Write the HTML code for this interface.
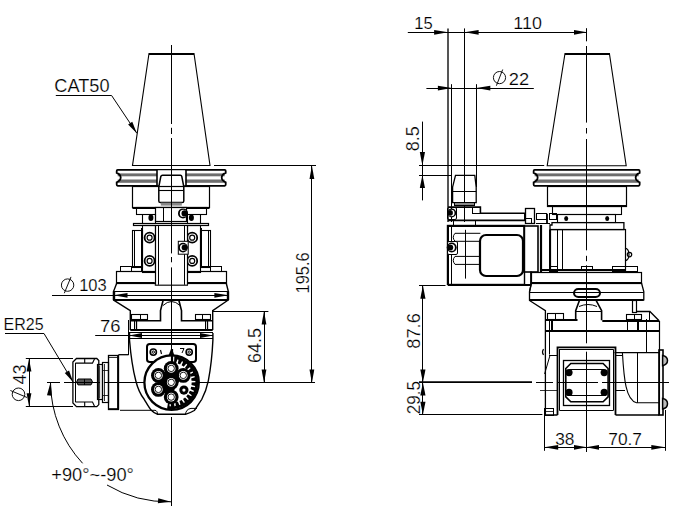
<!DOCTYPE html>
<html><head><meta charset="utf-8"><style>
html,body{margin:0;padding:0;background:#fff;}
svg{display:block;}
text{font-family:"Liberation Sans",sans-serif;fill:#000;stroke:#fff;stroke-width:0.2px;}
</style></head><body>
<svg width="676" height="511" viewBox="0 0 676 511">
<path d="M149,53.5 L194,53.5 L210,165.5 L132.5,165.5 Z" fill="none" stroke="#000" stroke-width="1.1" />
<line x1="149" y1="54.0" x2="194" y2="54.0" stroke="#000" stroke-width="2.2" />
<rect x="117.69999999999999" y="173.4" width="107.0" height="2.9000000000000057" fill="#6e6e6e"/>
<rect x="117.69999999999999" y="179.5" width="107.0" height="3.3000000000000114" fill="#6e6e6e"/>
<path d="M117.69999999999999,169.8 H224.7 Q225.7,169.8 225.7,171 V172.8 Q221.7,174.5 221.7,177.6 Q221.7,180.7 225.7,182.4 V184.6 Q225.7,185.8 224.7,185.8 H117.69999999999999 Q116.69999999999999,185.8 116.69999999999999,184.6 V182.4 Q120.69999999999999,180.7 120.69999999999999,177.6 Q120.69999999999999,174.5 116.69999999999999,172.8 V171 Q116.69999999999999,169.8 117.69999999999999,169.8 Z" fill="none" stroke="#000" stroke-width="1.8" />
<rect x="157" y="170.3" width="28.5" height="15" fill="#fff"/>
<line x1="157.0" y1="169" x2="157.0" y2="186.5" stroke="#000" stroke-width="1.6" />
<line x1="186.0" y1="169" x2="186.0" y2="186.5" stroke="#000" stroke-width="1.6" />
<path d="M162.5,175.2 H180.5 Q181.5,175.2 181.8,176.5 L183.8,186.9 V201 Q183.8,202.6 182,202.6 H160.6 Q158.8,202.6 158.8,201 V186.9 L160.8,176.5 Q161.2,175.2 162.5,175.2 Z" fill="#fff" stroke="#000" stroke-width="1.5" />
<line x1="158.8" y1="190.5" x2="183.8" y2="190.5" stroke="#000" stroke-width="1.1" />
<rect x="160.8" y="202.6" width="21" height="3" fill="#888"/>
<rect x="132.5" y="186.5" width="77.0" height="21.0" rx="0" fill="none" stroke="#000" stroke-width="1.2"/>
<line x1="132.5" y1="208.0" x2="209.5" y2="208.0" stroke="#000" stroke-width="2" />
<rect x="136.5" y="207.5" width="70.0" height="7.0" rx="0" fill="none" stroke="#000" stroke-width="1.1"/>
<rect x="155.5" y="207.5" width="31.0" height="14.0" rx="0" fill="#fff" stroke="#000" stroke-width="1.2"/>
<line x1="163.5" y1="207" x2="163.5" y2="221.3" stroke="#000" stroke-width="1" />
<circle cx="183" cy="213.4" r="5" fill="#000"/>
<circle cx="183.4" cy="213.4" r="3.60" fill="#fff"/>
<circle cx="184.6" cy="213.4" r="3.10" fill="#000"/>
<line x1="142.5" y1="214" x2="142.5" y2="223" stroke="#000" stroke-width="1.1" />
<line x1="155.5" y1="214" x2="155.5" y2="223" stroke="#000" stroke-width="1.1" />
<line x1="187.5" y1="214" x2="187.5" y2="223" stroke="#000" stroke-width="1.1" />
<line x1="200.5" y1="214" x2="200.5" y2="223" stroke="#000" stroke-width="1.1" />
<ellipse cx="150.9" cy="217.8" rx="2.5" ry="3.2" fill="#000"/>
<ellipse cx="191.4" cy="217.8" rx="2.5" ry="3.2" fill="#000"/>
<rect x="133.5" y="223.5" width="75.0" height="2.0" rx="0" fill="none" stroke="#000" stroke-width="1.2"/>
<rect x="132.5" y="230.5" width="10.0" height="37.0" rx="0" fill="none" stroke="#000" stroke-width="1.1"/>
<line x1="134.5" y1="230" x2="134.5" y2="267.3" stroke="#000" stroke-width="1" />
<rect x="200.5" y="230.5" width="10.0" height="37.0" rx="0" fill="none" stroke="#000" stroke-width="1.1"/>
<line x1="208.5" y1="230" x2="208.5" y2="267.3" stroke="#000" stroke-width="1" />
<rect x="142.5" y="225.5" width="13.0" height="47.0" rx="0" fill="none" stroke="#000" stroke-width="1.1"/>
<line x1="142.0" y1="228" x2="142.0" y2="268" stroke="#000" stroke-width="2" />
<rect x="187.5" y="225.5" width="13.0" height="47.0" rx="0" fill="none" stroke="#000" stroke-width="1.1"/>
<line x1="201.0" y1="228" x2="201.0" y2="268" stroke="#000" stroke-width="2" />
<circle cx="149.6" cy="237.7" r="5.0" fill="none" stroke="#000" stroke-width="1.8"/>
<circle cx="149.6" cy="237.7" r="2.5" fill="none" stroke="#000" stroke-width="1.2"/>
<circle cx="149.6" cy="260.9" r="5.0" fill="none" stroke="#000" stroke-width="1.8"/>
<circle cx="149.6" cy="260.9" r="2.5" fill="none" stroke="#000" stroke-width="1.2"/>
<circle cx="192.2" cy="237.7" r="5.0" fill="none" stroke="#000" stroke-width="1.8"/>
<circle cx="192.2" cy="237.7" r="2.5" fill="none" stroke="#000" stroke-width="1.2"/>
<circle cx="192.2" cy="260.9" r="5.0" fill="none" stroke="#000" stroke-width="1.8"/>
<circle cx="192.2" cy="260.9" r="2.5" fill="none" stroke="#000" stroke-width="1.2"/>
<rect x="120.5" y="266.5" width="21.0" height="5.0" rx="0" fill="none" stroke="#000" stroke-width="1"/>
<line x1="131.5" y1="266.6" x2="131.5" y2="271.6" stroke="#000" stroke-width="1" />
<rect x="200.5" y="266.5" width="21.0" height="5.0" rx="0" fill="none" stroke="#000" stroke-width="1"/>
<line x1="210.5" y1="266.6" x2="210.5" y2="271.6" stroke="#000" stroke-width="1" />
<rect x="116.5" y="271.5" width="110.0" height="12.0" rx="0" fill="none" stroke="#000" stroke-width="1.2"/>
<line x1="116.8" y1="283.0" x2="154.8" y2="283.0" stroke="#000" stroke-width="2" />
<line x1="188" y1="283.0" x2="226.2" y2="283.0" stroke="#000" stroke-width="2" />
<line x1="154.8" y1="285.0" x2="188" y2="285.0" stroke="#000" stroke-width="1.5" />
<rect x="155.5" y="226.5" width="32" height="58" fill="#fff"/>
<line x1="155.5" y1="225.7" x2="155.5" y2="284.8" stroke="#000" stroke-width="1.2" />
<line x1="158.5" y1="225.7" x2="158.5" y2="284.8" stroke="#000" stroke-width="1" />
<line x1="184.5" y1="225.7" x2="184.5" y2="284.8" stroke="#000" stroke-width="1" />
<line x1="187.5" y1="225.7" x2="187.5" y2="284.8" stroke="#000" stroke-width="1.2" />
<rect x="178.3" y="241.3" width="9.9" height="12.9" fill="#fff" stroke="#000" stroke-width="1"/>
<circle cx="183" cy="247.6" r="4.8" fill="#000"/>
<circle cx="183.4" cy="247.6" r="3.46" fill="#fff"/>
<circle cx="184.6" cy="247.6" r="2.98" fill="#000"/>
<path d="M116.8,283 L113.6,291.3 V300 L130.3,310.7 V330 M226.2,283 L228.3,291.3 V300 L212.7,310.7 V330" fill="none" stroke="#000" stroke-width="1.4" />
<line x1="113.6" y1="300.0" x2="228.3" y2="300.0" stroke="#000" stroke-width="1.8" />
<line x1="113.6" y1="291.5" x2="228.3" y2="291.5" stroke="#000" stroke-width="1" />
<line x1="114.0" y1="291.3" x2="114.0" y2="300" stroke="#000" stroke-width="2.4" />
<line x1="228.0" y1="291.3" x2="228.0" y2="300" stroke="#000" stroke-width="2.4" />
<path d="M130.3,320.7 H160.5 V310.5 L163.2,300 M212.7,320.7 H181.5 V310.5 L178.8,300" fill="none" stroke="#000" stroke-width="1.6" />
<path d="M163,305.5 Q171.5,297.5 180,305.5" fill="none" stroke="#000" stroke-width="1" />
<rect x="131.5" y="314.5" width="16.0" height="5.0" rx="0" fill="none" stroke="#000" stroke-width="1.1"/>
<line x1="140.5" y1="314" x2="140.5" y2="319.5" stroke="#000" stroke-width="1" />
<rect x="195.5" y="314.5" width="15.0" height="5.0" rx="0" fill="none" stroke="#000" stroke-width="1.1"/>
<line x1="202.5" y1="314" x2="202.5" y2="319.5" stroke="#000" stroke-width="1" />
<line x1="134.5" y1="320.7" x2="134.5" y2="330" stroke="#000" stroke-width="1" />
<line x1="136.5" y1="320.7" x2="136.5" y2="330" stroke="#000" stroke-width="1.3" />
<line x1="205.5" y1="320.7" x2="205.5" y2="330" stroke="#000" stroke-width="1" />
<line x1="207.5" y1="320.7" x2="207.5" y2="330" stroke="#000" stroke-width="1.3" />
<line x1="130.3" y1="330.0" x2="212.7" y2="330.0" stroke="#000" stroke-width="2.2" />
<line x1="129" y1="332.5" x2="213" y2="332.5" stroke="#000" stroke-width="1" />
<line x1="129" y1="338.5" x2="213" y2="338.5" stroke="#000" stroke-width="1" />
<path d="M129.5,333 V340 C130.5,352 133,370 135.8,380.8 C138,390 140,394 144.2,399.3 C147,404 149,408 151.6,410.5 Q154,413 157.2,414.2 H186 Q190,413 194.3,410.5 C197,407 199,403 201.8,399.3 C205,393 207,387 208.3,380.8 C210,372 212,360 212.9,340 V333" fill="none" stroke="#000" stroke-width="1.4" />
<line x1="128.5" y1="320" x2="128.5" y2="355" stroke="#000" stroke-width="1" />
<path d="M120,410.3 H155 Q157.5,410.5 157.5,414.9" fill="none" stroke="#000" stroke-width="1" />
<path d="M185.3,414.9 Q186,409 191,408.4 H197" fill="none" stroke="#000" stroke-width="1" />
<rect x="147.0" y="344.0" width="49.0" height="18.0" rx="2.8" fill="none" stroke="#000" stroke-width="2"/>
<circle cx="153.3" cy="352.1" r="3.1" fill="none" stroke="#000" stroke-width="1.6"/>
<circle cx="153.3" cy="352.1" r="1.2" fill="none" stroke="#000" stroke-width="1"/>
<circle cx="189.2" cy="352.1" r="3.1" fill="none" stroke="#000" stroke-width="1.6"/>
<circle cx="189.2" cy="352.1" r="1.2" fill="none" stroke="#000" stroke-width="1"/>
<circle cx="171.6" cy="382.6" r="26.2" fill="#fff" stroke="none"/>
<circle cx="171.6" cy="382.6" r="27.2" fill="none" stroke="#000" stroke-width="2.3"/>
<path d="M171.5,348 L174.5,355.5 L168.5,355.5 Z" fill="#000"/>
<line x1="160.5" y1="350" x2="161.5" y2="354" stroke="#000" stroke-width="1.2" />
<path d="M180,348.5 H184 L182,353" fill="none" stroke="#000" stroke-width="1" />
<path d="M174.37,356.25 L175.07,356.33 L175.78,356.43 L176.47,356.55 L177.17,356.69 L177.86,356.85 L178.55,357.03 L179.23,357.22 L179.91,357.44 L180.58,357.67 L181.24,357.92 L181.90,358.18 L182.55,358.47 L183.19,358.77 L183.82,359.09 L184.45,359.42 L185.06,359.77 L185.67,360.14 L186.26,360.53 L186.85,360.93 L187.42,361.34 L187.99,361.77 L188.54,362.22 L189.08,362.68 L189.61,363.16 L190.12,363.64 L190.62,364.15 L191.11,364.66 L191.58,365.19 L192.04,365.73 L192.48,366.28 L192.91,366.85 L193.33,367.43 L193.72,368.01 L194.11,368.61 L194.47,369.22 L194.82,369.83 L195.16,370.46 L195.47,371.09 L195.77,371.74 L196.05,372.39 L196.32,373.05 L196.56,373.71 L196.79,374.38 L197.00,375.06 L197.20,375.74 L197.37,376.43 L197.53,377.12 L197.66,377.82 L197.78,378.52 L197.88,379.22 L197.96,379.92 L198.03,380.63 L198.07,381.34 L198.09,382.05 L198.10,382.75 L198.09,383.46 L198.05,384.17 L198.00,384.88 L197.93,385.58 L197.84,386.29 L197.73,386.99 L197.61,387.69 L197.46,388.38 L197.30,389.07 L197.12,389.76 L196.91,390.44 L196.70,391.11 L196.46,391.78 L196.20,392.44 L195.93,393.10 L195.64,393.74 L195.34,394.38 L195.01,395.01 L194.67,395.64 L194.31,396.25 L193.94,396.85 L193.55,397.44 L193.15,398.03 L192.73,398.60 L192.29,399.16 L191.84,399.70 L191.38,400.24 L190.90,400.76 L190.40,401.27 L189.90,401.77 L189.38,402.25 L188.85,402.72 L188.30,403.17 L187.74,403.61 L187.18,404.04 L186.60,404.45 L186.01,404.84 L185.41,405.22 L184.80,405.58 L184.18,405.93 L183.55,406.25 L182.91,406.56 L182.27,406.86 L181.61,407.14 L180.95,407.39 L180.29,407.64 L179.61,407.86 L178.93,408.06 L178.25,408.25 L177.56,408.42 L176.87,408.57 L176.17,408.70 L175.47,408.82 L174.77,408.91 L174.06,408.99 L173.36,409.04 L172.65,409.08 L171.94,409.10 L171.23,409.10 L170.52,409.08 L169.81,409.04 L169.11,408.98 L168.40,408.91 L167.70,408.81 L167.00,408.70 L168.13,402.30 L168.47,402.35 L168.82,402.41 L169.16,402.45 L169.51,402.49 L169.53,406.31 L169.94,406.34 L170.35,406.37 L170.77,406.39 L171.25,402.60 L171.60,402.60 L171.95,402.60 L172.30,402.59 L172.65,402.57 L173.00,402.55 L173.34,402.52 L173.69,402.49 L174.50,406.22 L174.91,406.17 L175.32,406.11 L175.73,406.04 L175.42,402.23 L175.76,402.16 L176.10,402.09 L176.44,402.01 L176.78,401.92 L177.11,401.83 L177.45,401.73 L177.78,401.62 L179.35,405.10 L179.74,404.96 L180.13,404.82 L180.52,404.67 L179.41,401.01 L179.73,400.87 L180.05,400.73 L180.37,400.58 L180.68,400.42 L180.99,400.26 L181.30,400.09 L181.60,399.92 L183.86,403.00 L184.21,402.78 L184.56,402.56 L184.91,402.33 L183.07,398.98 L183.36,398.78 L183.64,398.57 L183.91,398.36 L184.19,398.14 L184.46,397.92 L184.72,397.69 L184.98,397.46 L187.83,400.01 L188.13,399.72 L188.43,399.43 L188.72,399.13 L186.23,396.24 L186.46,395.98 L186.69,395.72 L186.92,395.46 L187.14,395.19 L187.36,394.91 L187.57,394.64 L187.78,394.36 L191.10,396.25 L191.33,395.91 L191.56,395.56 L191.78,395.21 L188.74,392.90 L188.92,392.60 L189.09,392.30 L189.26,391.99 L189.42,391.68 L189.58,391.37 L189.73,391.05 L189.87,390.73 L193.51,391.90 L193.67,391.52 L193.82,391.13 L193.96,390.74 L190.51,389.11 L190.62,388.78 L190.73,388.45 L190.83,388.11 L190.92,387.78 L191.01,387.44 L191.09,387.10 L191.16,386.76 L194.96,387.14 L195.04,386.73 L195.11,386.32 L195.17,385.91 L191.45,385.04 L191.49,384.69 L191.52,384.34 L191.55,384.00 L191.57,383.65 L191.59,383.30 L191.60,382.95 L191.60,382.60 L195.40,382.18 L195.39,381.77 L195.37,381.35 L195.34,380.94 L191.52,380.86 L191.49,380.51 L191.45,380.16 L191.41,379.82 L191.35,379.47 L191.30,379.13 L191.23,378.78 L191.16,378.44 L194.79,377.25 L194.69,376.84 L194.59,376.44 L194.48,376.04 L190.73,376.75 L190.62,376.42 L190.51,376.09 L190.39,375.76 L190.27,375.43 L190.14,375.11 L190.01,374.79 L189.87,374.47 L193.17,372.54 L192.99,372.17 L192.81,371.80 L192.61,371.43 L189.09,372.90 L188.92,372.60 L188.74,372.30 L188.56,372.00 L188.37,371.71 L188.18,371.42 L187.98,371.13 L187.78,370.84 L190.61,368.28 L190.35,367.95 L190.10,367.62 L189.83,367.30 L186.69,369.48 L186.46,369.22 L186.23,368.96 L185.99,368.71 L185.74,368.46 L185.49,368.21 L185.24,367.97 L184.98,367.74 L187.21,364.64 L186.90,364.37 L186.58,364.10 L186.25,363.85 L183.64,366.63 L183.36,366.42 L183.07,366.22 L182.78,366.02 L182.49,365.83 L182.20,365.64 L181.90,365.46 L181.60,365.28 L183.14,361.78 L182.77,361.59 L182.40,361.39 L182.03,361.21 L180.05,364.47 L179.73,364.33 L179.41,364.19 L179.09,364.06 L178.77,363.93 L178.44,363.81 L178.11,363.69 L177.78,363.58 L178.56,359.84 L178.16,359.72 L177.76,359.61 L177.36,359.51 L176.10,363.11 L175.76,363.04 L175.42,362.97 L175.07,362.90 L174.73,362.85 L174.38,362.79 L174.04,362.75 Z" fill="#000"/>
<path d="M171.2,368.4 L183.3,375.4 L176,386 L171.2,397.1 L158.4,389.4 L158.4,375.4 Z" fill="#000"/>
<line x1="172.0" y1="349" x2="172.0" y2="368" stroke="#000" stroke-width="2.2" />
<circle cx="171.2" cy="368.4" r="7.4" fill="#000"/>
<circle cx="158.4" cy="375.4" r="7.4" fill="#000"/>
<circle cx="183.3" cy="375.4" r="7.4" fill="#000"/>
<circle cx="158.4" cy="389.4" r="7.4" fill="#000"/>
<circle cx="171.2" cy="397.1" r="7.4" fill="#000"/>
<circle cx="171.2" cy="382.4" r="7.4" fill="#000"/>
<circle cx="171.2" cy="368.4" r="4.3" fill="#fff"/>
<circle cx="171.2" cy="368.4" r="3.2" fill="none" stroke="#000" stroke-width="0.9"/>
<circle cx="158.4" cy="375.4" r="4.3" fill="#fff"/>
<circle cx="158.4" cy="375.4" r="3.2" fill="none" stroke="#000" stroke-width="0.9"/>
<circle cx="183.3" cy="375.4" r="4.3" fill="#fff"/>
<circle cx="183.3" cy="375.4" r="3.2" fill="none" stroke="#000" stroke-width="0.9"/>
<circle cx="158.4" cy="389.4" r="4.3" fill="#fff"/>
<circle cx="158.4" cy="389.4" r="3.2" fill="none" stroke="#000" stroke-width="0.9"/>
<circle cx="171.2" cy="397.1" r="4.3" fill="#fff"/>
<circle cx="171.2" cy="397.1" r="3.2" fill="none" stroke="#000" stroke-width="0.9"/>
<circle cx="171.2" cy="382.4" r="4.3" fill="#fff"/>
<circle cx="171.2" cy="382.4" r="3.2" fill="none" stroke="#000" stroke-width="0.9"/>
<circle cx="183.9" cy="390.1" r="4.6" fill="#000"/>
<circle cx="183.9" cy="390.1" r="1.6" fill="#fff"/>
<rect x="108.5" y="355.5" width="10.0" height="54.0" rx="0" fill="none" stroke="#000" stroke-width="1.3"/>
<line x1="108.1" y1="357.5" x2="118.4" y2="357.5" stroke="#000" stroke-width="0.8" />
<line x1="108.1" y1="408.5" x2="118.4" y2="408.5" stroke="#000" stroke-width="0.8" />
<line x1="118.0" y1="355.5" x2="118.0" y2="409.6" stroke="#000" stroke-width="1.8" />
<path d="M118.4,354.7 H128.6" fill="none" stroke="#000" stroke-width="1.3" />
<rect x="102.5" y="362.5" width="6.0" height="40.0" rx="0" fill="none" stroke="#000" stroke-width="1.2"/>
<line x1="104.5" y1="364" x2="104.5" y2="401" stroke="#000" stroke-width="0.8" />
<line x1="102.3" y1="370.5" x2="108.1" y2="370.5" stroke="#000" stroke-width="0.8" />
<line x1="102.3" y1="395.5" x2="108.1" y2="395.5" stroke="#000" stroke-width="0.8" />
<rect x="97.5" y="364.5" width="5.0" height="35.0" rx="0" fill="none" stroke="#000" stroke-width="1.2"/>
<line x1="99.5" y1="366" x2="99.5" y2="398" stroke="#777" stroke-width="1.4" />
<path d="M76.5,358.5 H96.8 L98.8,360.5 V404.6 L96.8,406.6 H76.5 L72.9,403 V362 Z" fill="none" stroke="#000" stroke-width="1.3" />
<line x1="75.5" y1="363" x2="75.5" y2="402" stroke="#000" stroke-width="1" />
<path d="M75.3,363.1 H92.5 L94.5,359 M84.7,359 V363.1" fill="none" stroke="#000" stroke-width="1.1" />
<path d="M75.3,402 H92.5 L94.5,406.2 M84.7,406.2 V402" fill="none" stroke="#000" stroke-width="1.1" />
<path d="M78,379 H91 Q94,382 91,384.9 H78 Q75.3,382 78,379 Z" fill="#555" stroke="#000" stroke-width="1"/>
<line x1="84.5" y1="379" x2="84.5" y2="384.9" stroke="#000" stroke-width="1" />
<text font-size="18" transform="matrix(1.0094,0,0,0.9804,54.291,92.055)">CAT50</text>
<path d="M55.8,95.5 H111.6 L136.8,133.2" fill="none" stroke="#000" stroke-width="1" />
<path d="M136.8,133.2 L128.11,124.56 L132.28,121.81 Z" fill="#000"/>
<line x1="214" y1="165.5" x2="316" y2="165.5" stroke="#000" stroke-width="1" />
<line x1="311.5" y1="165.5" x2="311.5" y2="382.9" stroke="#000" stroke-width="1" />
<path d="M311.9,165.5 L314.30,179.00 L309.50,179.00 Z" fill="#000"/>
<path d="M311.9,382.9 L309.50,369.40 L314.30,369.40 Z" fill="#000"/>
<text font-size="18" transform="matrix(0,-0.9116,1.0588,0,309.135,293.440)">195.6</text>
<line x1="213" y1="311.5" x2="268.4" y2="311.5" stroke="#000" stroke-width="1" />
<line x1="264.5" y1="311" x2="264.5" y2="383" stroke="#000" stroke-width="1" />
<path d="M264,311 L266.40,324.50 L261.60,324.50 Z" fill="#000"/>
<path d="M264,383 L261.60,369.50 L266.40,369.50 Z" fill="#000"/>
<text font-size="18" transform="matrix(0,-0.9985,0.9961,0,260.751,362.998)">64.5</text>
<line x1="52" y1="295.5" x2="228.4" y2="295.5" stroke="#000" stroke-width="1" />
<path d="M113.5,295.3 L127.50,292.90 L127.50,297.70 Z" fill="#000"/>
<path d="M228.4,295.3 L214.40,297.70 L214.40,292.90 Z" fill="#000"/>
<text font-size="18" transform="matrix(0.9179,0,0,0.9176,79.153,291.471)">103</text>
<circle cx="67.6" cy="285.1" r="6.2" fill="none" stroke="#111" stroke-width="1.0"/>
<line x1="71" y1="276.9" x2="64.3" y2="293.2" stroke="#111" stroke-width="1.0" />
<line x1="95.2" y1="335.5" x2="213" y2="335.5" stroke="#000" stroke-width="1" />
<path d="M129,335.5 L142.00,333.10 L142.00,337.90 Z" fill="#000"/>
<path d="M213,335.5 L200.00,337.90 L200.00,333.10 Z" fill="#000"/>
<text font-size="18" transform="matrix(1.0247,0,0,0.9255,99.875,331.569)">76</text>
<text font-size="18" transform="matrix(0.8912,0,0,0.9412,3.563,329.965)">ER25</text>
<path d="M5,333.5 H44 L73.1,382" fill="none" stroke="#000" stroke-width="1" />
<path d="M73.1,382 L64.78,373.00 L69.07,370.42 Z" fill="#000"/>
<line x1="25.8" y1="358.5" x2="73" y2="358.5" stroke="#000" stroke-width="1" />
<line x1="25.8" y1="406.5" x2="73" y2="406.5" stroke="#000" stroke-width="1" />
<line x1="29.5" y1="358.4" x2="29.5" y2="406.3" stroke="#000" stroke-width="1" />
<path d="M29,358.4 L31.40,371.40 L26.60,371.40 Z" fill="#000"/>
<path d="M29,406.3 L26.60,393.30 L31.40,393.30 Z" fill="#000"/>
<text font-size="18" transform="matrix(0,-1.0080,0.9725,0,25.757,384.604)">43</text>
<circle cx="18.5" cy="394.3" r="6.3" fill="none" stroke="#111" stroke-width="1.0"/>
<line x1="10.4" y1="390.5" x2="27.1" y2="397.5" stroke="#111" stroke-width="1.0" />
<path d="M50.5,383 A120.5,120.5 0 0 0 82.6,463.3" fill="none" stroke="#000" stroke-width="1" />
<path d="M107,485 A120,120 0 0 0 171,501.8" fill="none" stroke="#000" stroke-width="1" />
<path d="M50.5,382.6 L51.96,395.76 L46.97,395.36 Z" fill="#000"/>
<path d="M171,501.8 L157.84,503.26 L158.24,498.27 Z" fill="#000"/>
<line x1="171.5" y1="417" x2="171.5" y2="506" stroke="#000" stroke-width="1" />
<text font-size="18" transform="matrix(1.0158,0,0,0.9804,51.284,481.055)">+90°~-90°</text>
<path d="M565,53.5 L609.4,53.5 L626.2,165.7 L547.2,165.7 Z" fill="none" stroke="#000" stroke-width="1.1" />
<line x1="565" y1="54.0" x2="609.4" y2="54.0" stroke="#000" stroke-width="2.2" />
<rect x="534.65" y="173.4" width="104.0" height="2.9000000000000057" fill="#6e6e6e"/>
<rect x="534.65" y="179.5" width="104.0" height="3.3000000000000114" fill="#6e6e6e"/>
<path d="M534.65,169.8 H638.65 Q639.65,169.8 639.65,171 V172.8 Q635.65,174.5 635.65,177.6 Q635.65,180.7 639.65,182.4 V184.6 Q639.65,185.8 638.65,185.8 H534.65 Q533.65,185.8 533.65,184.6 V182.4 Q537.65,180.7 537.65,177.6 Q537.65,174.5 533.65,172.8 V171 Q533.65,169.8 534.65,169.8 Z" fill="none" stroke="#000" stroke-width="1.8" />
<rect x="547.5" y="186.5" width="79.0" height="20.0" rx="0" fill="none" stroke="#000" stroke-width="1.2"/>
<line x1="547.7" y1="206.0" x2="626.2" y2="206.0" stroke="#000" stroke-width="2" />
<rect x="552.5" y="206.5" width="69.0" height="8.0" rx="0" fill="none" stroke="#000" stroke-width="1.1"/>
<rect x="557.5" y="214.5" width="58.0" height="8.0" rx="0" fill="none" stroke="#000" stroke-width="1.1"/>
<ellipse cx="566.2" cy="218.5" rx="2" ry="2.6" fill="#000"/>
<ellipse cx="607.2" cy="218.5" rx="2" ry="2.6" fill="#000"/>
<path d="M552,222.7 H623.9 V229.6 H550 V225 H552 Z" fill="none" stroke="#000" stroke-width="1.3" />
<rect x="550.5" y="229.5" width="75.0" height="41.0" rx="0" fill="none" stroke="#000" stroke-width="1.2"/>
<line x1="562.5" y1="229.6" x2="562.5" y2="270.3" stroke="#000" stroke-width="1" />
<line x1="542" y1="270.0" x2="625" y2="270.0" stroke="#000" stroke-width="2" />
<path d="M625,248 Q629,249 629,254.6 Q629,260 625,261" fill="none" stroke="#000" stroke-width="1.2" />
<circle cx="629.5" cy="254.6" r="2.2" fill="none" stroke="#000" stroke-width="1.2"/>
<rect x="581.5" y="266.5" width="11.0" height="4.0" rx="0" fill="none" stroke="#000" stroke-width="1"/>
<rect x="612.5" y="266.5" width="25.0" height="5.0" rx="0" fill="none" stroke="#000" stroke-width="1"/>
<line x1="625.5" y1="266.2" x2="625.5" y2="271" stroke="#000" stroke-width="1" />
<rect x="531.5" y="272.5" width="110.0" height="11.0" rx="0" fill="none" stroke="#000" stroke-width="1.2"/>
<line x1="531.5" y1="283.0" x2="641.5" y2="283.0" stroke="#000" stroke-width="2" />
<path d="M531.5,283 L529.5,291.7 V300.5 L545.4,310.7 V415 M641.5,283 L643.8,291.7 V300.5" fill="none" stroke="#000" stroke-width="1.3" />
<line x1="529.5" y1="292.5" x2="643.8" y2="292.5" stroke="#000" stroke-width="1" />
<line x1="529.5" y1="300.0" x2="643.8" y2="300.0" stroke="#000" stroke-width="2" />
<rect x="574.0" y="289.0" width="26.0" height="8.0" rx="4.3" fill="none" stroke="#000" stroke-width="2"/>
<path d="M579.4,300.4 L575.7,310.7 V320.3 M596.1,300.4 L601.6,310.7 V320.3" fill="none" stroke="#000" stroke-width="1.6" />
<line x1="575.7" y1="311.5" x2="601.6" y2="311.5" stroke="#000" stroke-width="1" />
<path d="M579,306.5 Q588,302.5 597,306.5" fill="none" stroke="#000" stroke-width="1" />
<rect x="547.5" y="313.5" width="16.0" height="6.0" rx="0" fill="none" stroke="#000" stroke-width="1.1"/>
<line x1="555.5" y1="313.8" x2="555.5" y2="319.7" stroke="#000" stroke-width="1" />
<rect x="626.5" y="314.5" width="15.0" height="5.0" rx="0" fill="none" stroke="#000" stroke-width="1.1"/>
<line x1="634.5" y1="314.6" x2="634.5" y2="319.6" stroke="#000" stroke-width="1" />
<rect x="632.5" y="300.5" width="4.0" height="12.0" rx="0" fill="none" stroke="#000" stroke-width="1.2"/>
<path d="M636.7,311.5 H649.9 L659.1,320.8" fill="none" stroke="#000" stroke-width="1.3" />
<line x1="649.5" y1="311.5" x2="649.5" y2="320.8" stroke="#000" stroke-width="1" />
<line x1="545.4" y1="320.0" x2="577.5" y2="320.0" stroke="#000" stroke-width="1.8" />
<line x1="602.3" y1="321.0" x2="659.1" y2="321.0" stroke="#000" stroke-width="1.8" />
<line x1="659.5" y1="320.8" x2="659.5" y2="352.6" stroke="#000" stroke-width="1.2" />
<line x1="545.4" y1="331.0" x2="659.1" y2="331.0" stroke="#000" stroke-width="2.2" />
<line x1="552.0" y1="319.7" x2="552.0" y2="331" stroke="#000" stroke-width="2" />
<line x1="549.5" y1="319.7" x2="549.5" y2="331" stroke="#000" stroke-width="1" />
<line x1="627.5" y1="319.6" x2="627.5" y2="331" stroke="#000" stroke-width="1" />
<line x1="638.0" y1="319.6" x2="638.0" y2="331" stroke="#000" stroke-width="2" />
<line x1="646.5" y1="319" x2="646.5" y2="352.6" stroke="#000" stroke-width="1" />
<line x1="549.5" y1="331" x2="549.5" y2="354.5" stroke="#000" stroke-width="1" />
<path d="M543.5,349 Q541.5,352 543.5,355" fill="none" stroke="#000" stroke-width="1.2" />
<line x1="550" y1="355.3" x2="544.6" y2="374" stroke="#000" stroke-width="1" />
<line x1="549" y1="355.5" x2="557.5" y2="355.5" stroke="#000" stroke-width="1" />
<line x1="615.5" y1="355.5" x2="622" y2="355.5" stroke="#000" stroke-width="1" />
<line x1="540" y1="390.5" x2="557" y2="390.5" stroke="#000" stroke-width="0.8" />
<path d="M557.5,415 V347.4 H615.5 V415" fill="none" stroke="#000" stroke-width="1.8" />
<line x1="559.1" y1="349.5" x2="613.5" y2="349.5" stroke="#000" stroke-width="1" />
<line x1="559.5" y1="349.4" x2="559.5" y2="410.4" stroke="#000" stroke-width="1" />
<line x1="613.5" y1="349.4" x2="613.5" y2="410.4" stroke="#000" stroke-width="1" />
<line x1="559.4" y1="410.5" x2="613.5" y2="410.5" stroke="#000" stroke-width="1" />
<rect x="563.5" y="360.5" width="46.0" height="45.0" rx="0" fill="none" stroke="#000" stroke-width="1.3"/>
<path d="M570.8,363.5 H603.1 L608.1,368.5 V396.8 L603.1,401.8 H570.8 L565.8,396.8 V368.5 Z" fill="none" stroke="#000" stroke-width="1.6" />
<line x1="569" y1="369.5" x2="604" y2="369.5" stroke="#000" stroke-width="1" />
<line x1="569" y1="395.5" x2="604" y2="395.5" stroke="#000" stroke-width="1" />
<circle cx="569" cy="372.6" r="3.6" fill="#000" stroke="#000" stroke-width="0"/>
<circle cx="569" cy="392.4" r="3.6" fill="#000" stroke="#000" stroke-width="0"/>
<circle cx="604.2" cy="372.6" r="3.6" fill="#000" stroke="#000" stroke-width="0"/>
<circle cx="604.2" cy="392.4" r="3.6" fill="#000" stroke="#000" stroke-width="0"/>
<line x1="544.6" y1="415.0" x2="557.5" y2="415.0" stroke="#000" stroke-width="1.5" />
<line x1="615.5" y1="415.0" x2="659.4" y2="415.0" stroke="#000" stroke-width="1.5" />
<rect x="544.5" y="408.5" width="9.0" height="7.0" rx="0" fill="none" stroke="#000" stroke-width="1"/>
<line x1="544.7" y1="411.5" x2="553.3" y2="411.5" stroke="#000" stroke-width="0.8" />
<path d="M614.5,352.6 H659.4 V415" fill="none" stroke="#000" stroke-width="1.3" />
<path d="M622.4,352.6 C624,380 626,400 636.5,402.8 H659.4" fill="none" stroke="#000" stroke-width="1.1" />
<line x1="637.5" y1="352.6" x2="637.5" y2="402.8" stroke="#000" stroke-width="1" />
<line x1="615" y1="355.5" x2="622" y2="355.5" stroke="#000" stroke-width="1" />
<line x1="615" y1="390.5" x2="625" y2="390.5" stroke="#000" stroke-width="1" />
<rect x="659.0" y="350.0" width="4.0" height="65.0" rx="0" fill="none" stroke="#000" stroke-width="1.6"/>
<path d="M662.6,355.5 Q667.5,356.5 667.5,360.6 Q667.5,364.7 662.6,365.7 Z M662.6,398.5 Q667.5,399.5 667.5,403.7 Q667.5,407.9 662.6,408.9 Z" fill="#bbb" stroke="#000" stroke-width="1.5" />
<path d="M419,382.5 H532 M536,382.5 H553 M557,382.5 H598 M602,382.5 H669" fill="none" stroke="#000" stroke-width="1" />
<line x1="419" y1="382.0" x2="532" y2="382.0" stroke="#000" stroke-width="1.6" />
<line x1="448.0" y1="28.4" x2="448.0" y2="222" stroke="#555" stroke-width="2" />
<line x1="451.5" y1="175" x2="451.5" y2="222" stroke="#000" stroke-width="1" />
<line x1="464.5" y1="28.4" x2="464.5" y2="222" stroke="#000" stroke-width="1" />
<line x1="465.5" y1="229.8" x2="465.5" y2="278.6" stroke="#000" stroke-width="1" />
<line x1="451.5" y1="84.2" x2="451.5" y2="187" stroke="#000" stroke-width="1" />
<line x1="476.5" y1="84.2" x2="476.5" y2="187" stroke="#000" stroke-width="1" />
<path d="M455.5,175.4 H474.8 L476.2,187.2 V202.7 H452.6 V187.2 Z" fill="none" stroke="#000" stroke-width="1.3" />
<line x1="452.6" y1="191.5" x2="476.2" y2="191.5" stroke="#000" stroke-width="1" />
<rect x="454.5" y="202.5" width="20.0" height="3.0" rx="0" fill="#888" stroke="#000" stroke-width="1"/>
<path d="M448.1,207.1 H480.4 V213.3 H524.8 V220.4 H448.1" fill="none" stroke="#000" stroke-width="1.6" />
<rect x="472.5" y="207.5" width="8.0" height="6.0" rx="0" fill="none" stroke="#000" stroke-width="1"/>
<rect x="447.5" y="207.5" width="9.0" height="12.0" rx="1.5" fill="none" stroke="#000" stroke-width="1"/>
<circle cx="451.7" cy="212.9" r="4.5" fill="#000"/>
<circle cx="451.3" cy="212.9" r="3.24" fill="#fff"/>
<circle cx="450.09999999999997" cy="212.9" r="2.79" fill="#000"/>
<line x1="453.5" y1="220.4" x2="453.5" y2="225.7" stroke="#000" stroke-width="1" />
<line x1="475.5" y1="220.4" x2="475.5" y2="225.7" stroke="#000" stroke-width="1" />
<rect x="525.5" y="208.5" width="9.0" height="15.0" rx="0" fill="none" stroke="#000" stroke-width="1.3"/>
<rect x="525.5" y="218.5" width="6.0" height="5.0" rx="0" fill="none" stroke="#000" stroke-width="1"/>
<rect x="536.5" y="213.5" width="10.0" height="6.0" rx="0" fill="none" stroke="#000" stroke-width="1"/>
<line x1="547.0" y1="213.8" x2="547.0" y2="223" stroke="#000" stroke-width="1.8" />
<rect x="549.5" y="213.5" width="7.0" height="6.0" rx="0" fill="none" stroke="#000" stroke-width="1"/>
<line x1="536" y1="223.5" x2="550" y2="223.5" stroke="#000" stroke-width="1" />
<rect x="447.5" y="225.5" width="77.0" height="59.0" rx="0" fill="none" stroke="#000" stroke-width="1.4"/>
<line x1="447.9" y1="226.0" x2="524" y2="226.0" stroke="#000" stroke-width="2.2" />
<line x1="448.0" y1="225.7" x2="448.0" y2="284.8" stroke="#000" stroke-width="2" />
<line x1="451.5" y1="225.7" x2="451.5" y2="284.8" stroke="#000" stroke-width="1" />
<path d="M480.4,233.3 H455 Q451.5,237.3 455,241.3 H480.4 M480.4,256.4 H455 Q451.5,260.4 455,264.4 H480.4" fill="none" stroke="#000" stroke-width="1" />
<rect x="480.0" y="235.0" width="43.0" height="41.0" rx="6" fill="#fff" stroke="#000" stroke-width="2.2"/>
<rect x="447.5" y="241.5" width="10.0" height="13.0" rx="1.5" fill="#fff" stroke="#000" stroke-width="1"/>
<circle cx="451.7" cy="247.5" r="5" fill="#000"/>
<circle cx="451.3" cy="247.5" r="3.60" fill="#fff"/>
<circle cx="450.09999999999997" cy="247.5" r="3.10" fill="#000"/>
<rect x="524.0" y="226.0" width="14.0" height="46.0" rx="0" fill="none" stroke="#000" stroke-width="1.6"/>
<line x1="541.0" y1="225" x2="541.0" y2="272" stroke="#000" stroke-width="2.2" />
<line x1="549.5" y1="229.6" x2="549.5" y2="271.5" stroke="#000" stroke-width="1" />
<line x1="557.5" y1="229.6" x2="557.5" y2="271.5" stroke="#000" stroke-width="1" />
<rect x="549.5" y="266.5" width="8.0" height="5.0" rx="0" fill="none" stroke="#000" stroke-width="1"/>
<line x1="531.0" y1="271.5" x2="531.0" y2="284.8" stroke="#000" stroke-width="1.8" />
<line x1="447.9" y1="285.0" x2="531" y2="285.0" stroke="#000" stroke-width="2" />
<line x1="531" y1="284.8" x2="529.5" y2="291.7" stroke="#000" stroke-width="1.3" />
<line x1="419" y1="165.5" x2="544.2" y2="165.5" stroke="#000" stroke-width="1" />
<line x1="419" y1="175.5" x2="452" y2="175.5" stroke="#000" stroke-width="1" />
<line x1="422.5" y1="121.6" x2="422.5" y2="200.4" stroke="#000" stroke-width="1" />
<path d="M422.4,165.6 L419.80,152.10 L425.00,152.10 Z" fill="#000"/>
<path d="M422.4,175 L425.00,188.00 L419.80,188.00 Z" fill="#000"/>
<text font-size="18" transform="matrix(0,-1.0000,0.9882,0,419.353,151.250)">8.5</text>
<line x1="407.8" y1="32.5" x2="586.8" y2="32.5" stroke="#000" stroke-width="1" />
<path d="M448.1,32.3 L434.10,34.70 L434.10,29.90 Z" fill="#000"/>
<path d="M464.6,32.3 L478.60,29.90 L478.60,34.70 Z" fill="#000"/>
<path d="M587,32.3 L574.00,34.70 L574.00,29.90 Z" fill="#000"/>
<text font-size="18" transform="matrix(0.9222,0,0,0.9520,414.247,28.662)">15</text>
<text font-size="18" transform="matrix(0.9944,0,0,0.9333,513.357,28.667)">110</text>
<line x1="426.4" y1="88.5" x2="533.8" y2="88.5" stroke="#000" stroke-width="1" />
<path d="M451.9,88.1 L437.90,90.50 L437.90,85.70 Z" fill="#000"/>
<path d="M476.3,88.1 L490.30,85.70 L490.30,90.50 Z" fill="#000"/>
<text font-size="18" transform="matrix(1.0167,0,0,0.9440,508.783,84.900)">22</text>
<circle cx="499.5" cy="77.6" r="6.1" fill="none" stroke="#111" stroke-width="1.0"/>
<line x1="502.7" y1="69.5" x2="496.4" y2="85.7" stroke="#111" stroke-width="1.0" />
<line x1="419" y1="285.5" x2="445.5" y2="285.5" stroke="#000" stroke-width="1" />
<line x1="422.5" y1="285.3" x2="422.5" y2="414.7" stroke="#000" stroke-width="1" />
<path d="M422.9,285.3 L425.50,298.80 L420.30,298.80 Z" fill="#000"/>
<path d="M422.9,382.4 L420.30,369.40 L425.50,369.40 Z" fill="#000"/>
<path d="M422.9,382.4 L425.50,395.40 L420.30,395.40 Z" fill="#000"/>
<path d="M422.9,414.7 L420.30,401.70 L425.50,401.70 Z" fill="#000"/>
<text font-size="18" transform="matrix(0,-1.0119,1.0588,0,420.035,348.659)">87.6</text>
<text font-size="18" transform="matrix(0,-0.9504,1.0588,0,420.035,414.250)">29.5</text>
<line x1="419" y1="414.5" x2="542.4" y2="414.5" stroke="#000" stroke-width="1" />
<line x1="544.5" y1="415" x2="544.5" y2="450.8" stroke="#000" stroke-width="1" />
<line x1="665.5" y1="410" x2="665.5" y2="450.8" stroke="#000" stroke-width="1" />
<line x1="544.2" y1="447.5" x2="665.3" y2="447.5" stroke="#000" stroke-width="1" />
<path d="M544.2,447.3 L558.20,444.90 L558.20,449.70 Z" fill="#000"/>
<path d="M587,447.3 L574.00,449.70 L574.00,444.90 Z" fill="#000"/>
<path d="M586,447.3 L599.00,444.90 L599.00,449.70 Z" fill="#000"/>
<path d="M665.3,447.3 L651.30,449.70 L651.30,444.90 Z" fill="#000"/>
<text font-size="18" transform="matrix(0.9622,0,0,0.9333,555.178,444.767)">38</text>
<text font-size="18" transform="matrix(0.9636,0,0,0.9333,608.236,444.767)">70.7</text>
<path d="M47,382.5 H60 M64,382.5 H100 M104,382.5 H145 M198,382.5 H315" fill="none" stroke="#000" stroke-width="1" />
<path d="M171.5,45 V124 M171.5,127.8 V134 M171.5,138 V253.4 M171.5,257 V262.3 M171.5,267.4 V350" fill="none" stroke="#000" stroke-width="1" />
<path d="M586.5,28.2 V41.3 M586.5,46 V122.6 M586.5,128 V133.5 M586.5,139 V250.3 M586.5,255.8 V261.2 M586.5,265.3 V343.3 M586.5,351.7 V452" fill="none" stroke="#000" stroke-width="1" />
</svg></body></html>
